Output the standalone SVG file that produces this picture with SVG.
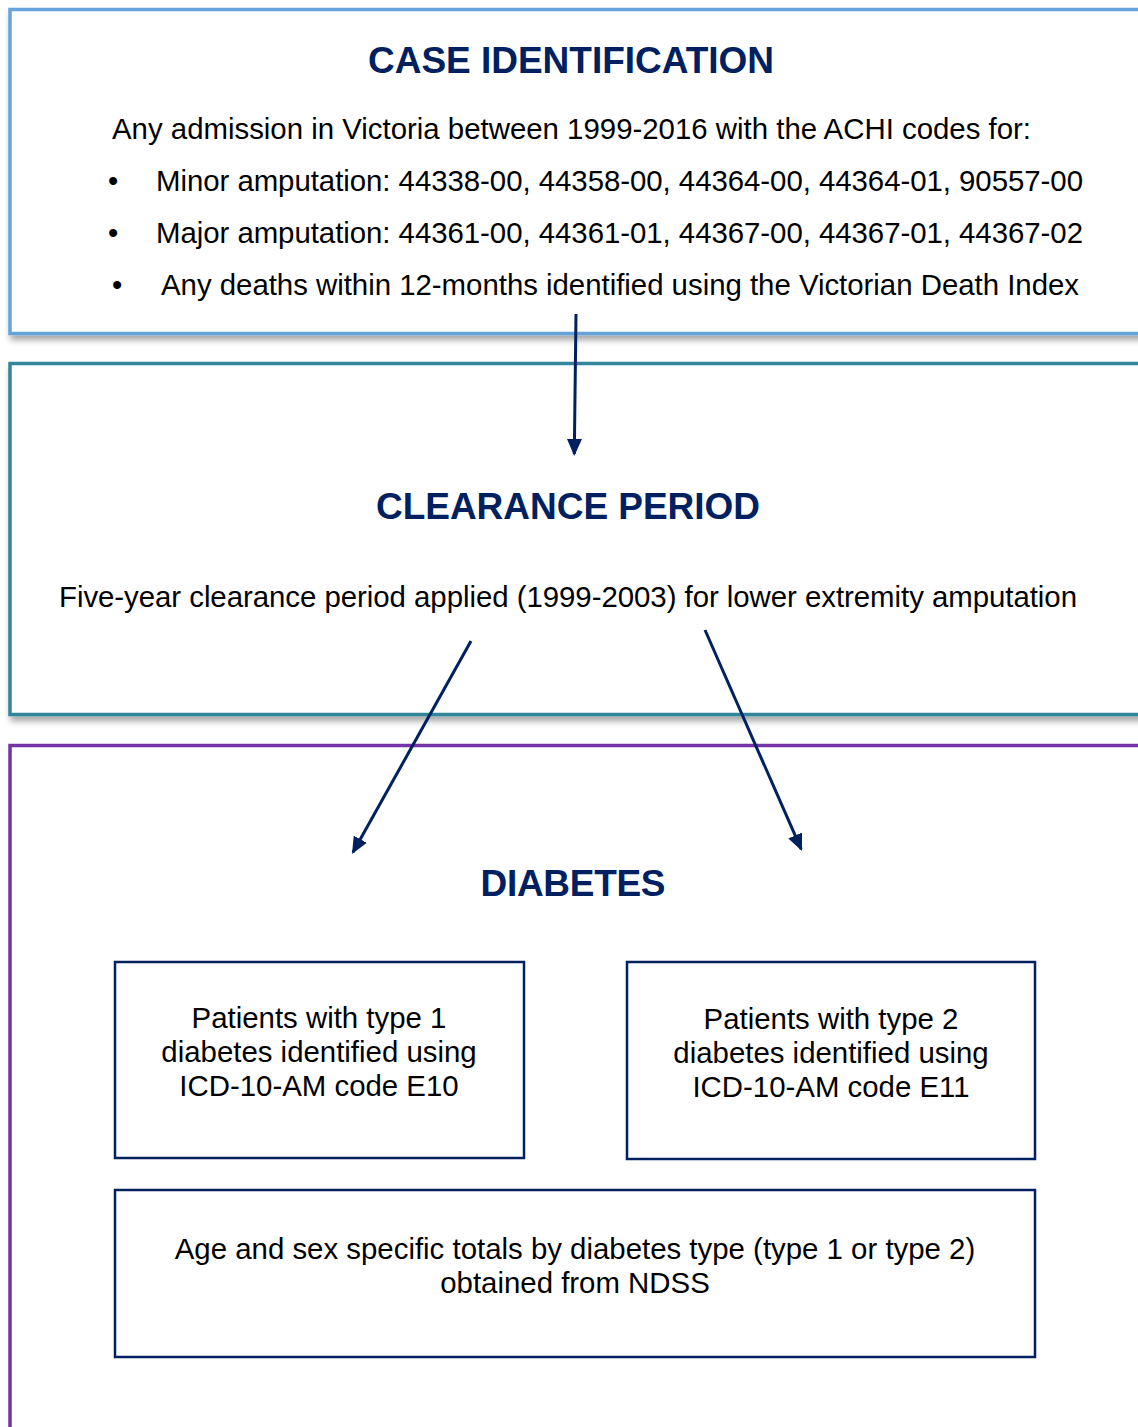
<svg xmlns="http://www.w3.org/2000/svg" width="1138" height="1427" viewBox="0 0 1138 1427">
<defs>
<filter id="sh" x="-5%" y="-5%" width="110%" height="115%">
<feDropShadow dx="2" dy="5" stdDeviation="3" flood-color="#000" flood-opacity="0.35"/>
</filter>
<marker id="ah" markerWidth="17" markerHeight="15" refX="15" refY="7.5" orient="auto" markerUnits="userSpaceOnUse">
<path d="M0,0 L17,7.5 L0,15 Z" fill="#002060"/>
</marker>
<style>
.big{fill:#fff;stroke-width:3.5;}
.inner{fill:#fff;stroke:#002060;stroke-width:2.5;}
.title{font-family:"Liberation Sans",Arial,sans-serif;font-weight:bold;font-size:37px;fill:#002060;text-anchor:middle;}
.t{font-family:"Liberation Sans",Arial,sans-serif;font-size:29.4px;fill:#000;}
.c{text-anchor:middle;}
.conn{stroke:#002060;stroke-width:3;fill:none;marker-end:url(#ah);}
</style>
</defs>
<rect width="1138" height="1427" fill="#fff"/>
<g id="case-identification">
<rect class="big" x="10" y="9.5" width="1140" height="324" stroke="#65a3db" filter="url(#sh)"/>
<text class="title" x="571" y="73" textLength="406">CASE IDENTIFICATION</text>
<text class="t" x="112" y="139" textLength="919">Any admission in Victoria between 1999-2016 with the ACHI codes for:</text>
<text class="t" x="108" y="191">•</text>
<text class="t" x="156" y="191" textLength="927">Minor amputation: 44338-00, 44358-00, 44364-00, 44364-01, 90557-00</text>
<text class="t" x="108" y="243">•</text>
<text class="t" x="156" y="243" textLength="927">Major amputation: 44361-00, 44361-01, 44367-00, 44367-01, 44367-02</text>
<text class="t" x="112" y="295">•</text>
<text class="t" x="161" y="295" textLength="918">Any deaths within 12-months identified using the Victorian Death Index</text>
</g>
<g id="clearance-period">
<rect class="big" x="10" y="363.5" width="1140" height="351" stroke="#31869b" filter="url(#sh)"/>
<text class="title" x="568" y="519" textLength="384">CLEARANCE PERIOD</text>
<text class="t" x="59" y="607" textLength="1018">Five-year clearance period applied (1999-2003) for lower extremity amputation</text>
</g>
<g id="diabetes">
<rect class="big" x="10" y="745.5" width="1140" height="700" stroke="#7433a6"/>
<text class="title" x="573" y="896" textLength="185">DIABETES</text>
</g>
<g id="type1">
<rect class="inner" x="115" y="962" width="409" height="196"/>
<text class="t c" x="319" y="1028">Patients with type 1</text>
<text class="t c" x="319" y="1062">diabetes identified using</text>
<text class="t c" x="319" y="1096">ICD-10-AM code E10</text>
</g>
<g id="type2">
<rect class="inner" x="627" y="962" width="408" height="197"/>
<text class="t c" x="831" y="1029">Patients with type 2</text>
<text class="t c" x="831" y="1063">diabetes identified using</text>
<text class="t c" x="831" y="1097">ICD-10-AM code E11</text>
</g>
<g id="ndss">
<rect class="inner" x="115" y="1190" width="920" height="167"/>
<text class="t c" x="575" y="1259">Age and sex specific totals by diabetes type (type 1 or type 2)</text>
<text class="t c" x="575" y="1293">obtained from NDSS</text>
</g>
<g id="connectors">
<line class="conn" x1="576" y1="314" x2="574.3" y2="454"/>
<line class="conn" x1="471" y1="641" x2="353" y2="852.3"/>
<line class="conn" x1="705" y1="630" x2="801.2" y2="849.2"/>
</g>
</svg>
